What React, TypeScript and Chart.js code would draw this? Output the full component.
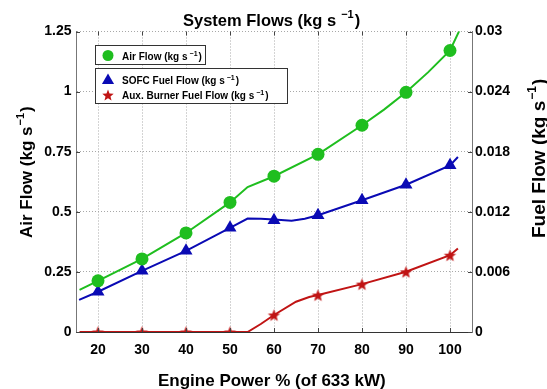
import React, { useEffect, useRef } from "react";
import { Chart, registerables } from "chart.js";

Chart.register(...registerables);

// ---- data ----
const markerPower = [20, 30, 40, 50, 60, 70, 80, 90, 100];
const airFlowMarkers = [0.213, 0.304, 0.412, 0.539, 0.648, 0.739, 0.86, 0.997, 1.171];
const sofcFuelMarkers = [0.00402, 0.00611, 0.0081, 0.0104, 0.01116, 0.01166, 0.01316, 0.0147, 0.01664];
const auxFuelMarkers = [0, 0, 0, 0, 0.0017, 0.00369, 0.00478, 0.00601, 0.00767];

const airCurvePower = [15.8, 20, 30, 40, 50, 54, 60, 70, 80, 85, 90, 95, 100, 102.5];
const airCurve = [0.175, 0.213, 0.304, 0.412, 0.539, 0.603, 0.648, 0.739, 0.86, 0.925, 0.997, 1.08, 1.171, 1.268];

const sofcCurvePower = [15.7, 20, 30, 40, 50, 54, 57, 60, 64, 67, 70, 80, 90, 100, 101.8];
const sofcCurve = [0.0032, 0.00402, 0.00611, 0.0081, 0.0104, 0.01133, 0.0113, 0.01122, 0.0111, 0.0113, 0.01166, 0.01316, 0.0147, 0.01664, 0.01747];

const auxCurvePower = [15.8, 20, 30, 40, 50, 54, 57, 60, 65, 68, 70, 80, 90, 100, 101.8];
const auxCurve = [0, 0, 0, 0, 0, 0, 0.0008, 0.0017, 0.00302, 0.0035, 0.00369, 0.00478, 0.00601, 0.00767, 0.00834];

const xTickValues = [20, 30, 40, 50, 60, 70, 80, 90, 100];
const leftTickValues = [0, 0.25, 0.5, 0.75, 1, 1.25];
const leftTickLabels = ["0", "0.25", "0.5", "0.75", "1", "1.25"];
const rightTickValues = [0, 0.006, 0.012, 0.018, 0.024, 0.03];
const rightTickLabels = ["0", "0.006", "0.012", "0.018", "0.024", "0.03"];

const GREEN = "#1fbe1f";
const BLUE = "#0a0ab4";
const RED = "#c01414";
const FAMILY = '"Liberation Sans", Arial, Helvetica, sans-serif';

type Part = { t: string; size: number; dy?: number; gap?: number };

function drawRich(ctx: CanvasRenderingContext2D, parts: Part[], x: number, y: number, rot = 0) {
  ctx.save();
  ctx.translate(x, y);
  if (rot) ctx.rotate(rot);
  ctx.textAlign = "left";
  ctx.textBaseline = "alphabetic";
  ctx.fillStyle = "#000";
  let cx = 0;
  for (const p of parts) {
    ctx.font = `bold ${p.size}px ${FAMILY}`;
    cx += p.gap || 0;
    ctx.fillText(p.t, cx, p.dy || 0);
    cx += ctx.measureText(p.t).width;
  }
  ctx.restore();
}

function makeStar(color: string, outer: number, inner: number): HTMLCanvasElement {
  const size = Math.ceil(outer * 2 + 2);
  const c = document.createElement("canvas");
  c.width = size;
  c.height = size;
  const g = c.getContext("2d")!;
  const cx = size / 2;
  const cy = size / 2 + outer * 0.1;
  g.beginPath();
  for (let i = 0; i < 10; i++) {
    const r = i % 2 === 0 ? outer : inner;
    const a = -Math.PI / 2 + (i * Math.PI) / 5;
    const px = cx + r * Math.cos(a);
    const py = cy + r * Math.sin(a);
    if (i === 0) g.moveTo(px, py);
    else g.lineTo(px, py);
  }
  g.closePath();
  g.fillStyle = color;
  g.fill();
  return c;
}

function drawTriangle(ctx: CanvasRenderingContext2D, x: number, y: number, r: number, color: string) {
  ctx.beginPath();
  ctx.moveTo(x, y - r);
  ctx.lineTo(x + r * Math.sin(Math.PI / 3), y + r / 2);
  ctx.lineTo(x - r * Math.sin(Math.PI / 3), y + r / 2);
  ctx.closePath();
  ctx.fillStyle = color;
  ctx.fill();
}

const pts = (xs: number[], ys: number[]) => xs.map((x, i) => ({ x, y: ys[i] }));

export default function App() {
  const ref = useRef<HTMLCanvasElement | null>(null);

  useEffect(() => {
    if (!ref.current) return;
    const star = makeStar(RED, 6.5, 2.8);
    const legendStar = makeStar(RED, 6, 2.6);

    const decor = {
      id: "decor",
      afterDraw(chart: any) {
        const ctx: CanvasRenderingContext2D = chart.ctx;
        const area = chart.chartArea;
        const xs = chart.scales.x;
        const ys = chart.scales.y;
        const y2 = chart.scales.y2;
        // inward ticks
        ctx.save();
        ctx.strokeStyle = "#444";
        ctx.lineWidth = 1;
        ctx.beginPath();
        for (const v of xTickValues) {
          const px = Math.round(xs.getPixelForValue(v)) + 0.5;
          ctx.moveTo(px, area.bottom);
          ctx.lineTo(px, area.bottom - 4);
          ctx.moveTo(px, area.top);
          ctx.lineTo(px, area.top + 4);
        }
        for (const v of leftTickValues) {
          const py = Math.round(ys.getPixelForValue(v)) + 0.5;
          ctx.moveTo(area.left, py);
          ctx.lineTo(area.left + 4, py);
        }
        for (const v of rightTickValues) {
          const py = Math.round(y2.getPixelForValue(v)) + 0.5;
          ctx.moveTo(area.right, py);
          ctx.lineTo(area.right - 4, py);
        }
        ctx.stroke();
        ctx.restore();

        // titles
        drawRich(ctx, [
          { t: "System Flows (kg s", size: 16.5 },
          { t: "\u22121", size: 11, dy: -8, gap: 5 },
          { t: ")", size: 16.5, gap: 1 },
        ], 183, 25.5);
        drawRich(ctx, [{ t: "Engine Power % (of 633 kW)", size: 17 }], 158, 386);
        drawRich(ctx, [
          { t: "Air Flow (kg s", size: 17 },
          { t: "\u22121", size: 11, dy: -8, gap: 1 },
          { t: ")", size: 17, gap: 1 },
        ], 32, 238, -Math.PI / 2);
        drawRich(ctx, [
          { t: "Fuel Flow (kg s", size: 19 },
          { t: "\u22121", size: 12, dy: -9, gap: 1 },
          { t: ")", size: 19, gap: 1 },
        ], 545, 238, -Math.PI / 2);

        // legend boxes
        ctx.save();
        ctx.fillStyle = "#fff";
        ctx.strokeStyle = "#333";
        ctx.lineWidth = 1;
        ctx.fillRect(95.5, 45.5, 110, 19);
        ctx.strokeRect(95.5, 45.5, 110, 19);
        ctx.fillRect(95.5, 68.5, 192, 35);
        ctx.strokeRect(95.5, 68.5, 192, 35);
        ctx.beginPath();
        ctx.arc(108, 55.5, 5.5, 0, Math.PI * 2);
        ctx.fillStyle = GREEN;
        ctx.fill();
        drawTriangle(ctx, 108, 80.5, 7, BLUE);
        ctx.drawImage(legendStar, 108 - legendStar.width / 2, 95 - legendStar.height / 2);
        ctx.restore();
        drawRich(ctx, [
          { t: "Air Flow (kg s", size: 10 },
          { t: "\u22121", size: 7, dy: -4, gap: 2 },
          { t: ")", size: 10, gap: 1 },
        ], 122, 60);
        drawRich(ctx, [
          { t: "SOFC Fuel Flow (kg s", size: 10 },
          { t: "\u22121", size: 7, dy: -4, gap: 2 },
          { t: ")", size: 10, gap: 1 },
        ], 122, 84);
        drawRich(ctx, [
          { t: "Aux. Burner Fuel Flow (kg s", size: 10 },
          { t: "\u22121", size: 7, dy: -4, gap: 2 },
          { t: ")", size: 10, gap: 1 },
        ], 122, 99);
      },
    };

    const tickFont = { family: FAMILY, size: 14, weight: "bold" as const };

    const chart = new Chart(ref.current, {
      type: "line",
      data: {
        datasets: [
          {
            type: "scatter",
            data: pts(markerPower, airFlowMarkers),
            yAxisID: "y",
            pointStyle: "circle",
            pointRadius: 6.5,
            backgroundColor: GREEN,
            borderColor: GREEN,
            borderWidth: 0,
          },
          {
            type: "scatter",
            data: pts(markerPower, sofcFuelMarkers),
            yAxisID: "y2",
            pointStyle: "triangle",
            pointRadius: 7.5,
            backgroundColor: BLUE,
            borderColor: BLUE,
            borderWidth: 0,
          },
          {
            type: "scatter",
            data: pts(markerPower, auxFuelMarkers),
            yAxisID: "y2",
            pointStyle: star as any,
            pointRadius: 6,
            backgroundColor: RED,
            borderColor: RED,
          },
          {
            data: pts(airCurvePower, airCurve),
            yAxisID: "y",
            borderColor: GREEN,
            borderWidth: 2,
            pointRadius: 0,
            tension: 0,
            fill: false,
          },
          {
            data: pts(sofcCurvePower, sofcCurve),
            yAxisID: "y2",
            borderColor: BLUE,
            borderWidth: 2,
            pointRadius: 0,
            tension: 0,
            fill: false,
          },
          {
            data: pts(auxCurvePower, auxCurve),
            yAxisID: "y2",
            borderColor: RED,
            borderWidth: 2,
            pointRadius: 0,
            tension: 0,
            fill: false,
          },
        ] as any,
      },
      options: {
        responsive: false,
        animation: false,
        layout: { padding: { top: 31.5, left: 0, right: 0, bottom: 0 } },
        plugins: {
          legend: { display: false },
          title: { display: false },
          tooltip: { enabled: false },
        },
        scales: {
          x: {
            type: "linear",
            position: "bottom",
            min: 15,
            max: 105,
            afterBuildTicks: (s: any) => {
              s.ticks = xTickValues.map((v) => ({ value: v }));
            },
            afterFit: (s: any) => {
              s.height = 57;
            },
            grid: { color: "#a8a8a8", lineWidth: 1, drawTicks: false },
            border: { display: true, color: "#333", width: 1, dash: [1, 2] },
            ticks: {
              padding: 10,
              color: "#000",
              font: tickFont,
              callback: (v: any) => String(v),
            },
          },
          y: {
            type: "linear",
            position: "left",
            min: 0,
            max: 1.25,
            afterBuildTicks: (s: any) => {
              s.ticks = leftTickValues.map((v) => ({ value: v }));
            },
            afterFit: (s: any) => {
              s.width = 76;
            },
            grid: { color: "#a8a8a8", lineWidth: 1, drawTicks: false },
            border: { display: true, color: "#777", width: 1, dash: [1, 2] },
            ticks: {
              padding: 4.5,
              color: "#000",
              font: tickFont,
              callback: (v: any) => {
                const i = leftTickValues.findIndex((t) => Math.abs(t - v) < 1e-9);
                return i >= 0 ? leftTickLabels[i] : "";
              },
            },
          },
          y2: {
            type: "linear",
            position: "right",
            min: 0,
            max: 0.03,
            afterBuildTicks: (s: any) => {
              s.ticks = rightTickValues.map((v) => ({ value: v }));
            },
            afterFit: (s: any) => {
              s.width = 75;
            },
            grid: { display: false, drawTicks: false },
            border: { display: true, color: "#777", width: 1 },
            ticks: {
              padding: 3,
              color: "#000",
              font: tickFont,
              callback: (v: any) => {
                const i = rightTickValues.findIndex((t) => Math.abs(t - v) < 1e-9);
                return i >= 0 ? rightTickLabels[i] : "";
              },
            },
          },
        },
      } as any,
      plugins: [decor],
    });
    return () => chart.destroy();
  }, []);

  return (
    <div style={{ position: "absolute", left: 0, top: 0, width: 547, height: 389, background: "#fff" }}>
      <canvas ref={ref} width={547} height={389} style={{ display: "block", width: 547, height: 389 }} />
    </div>
  );
}
